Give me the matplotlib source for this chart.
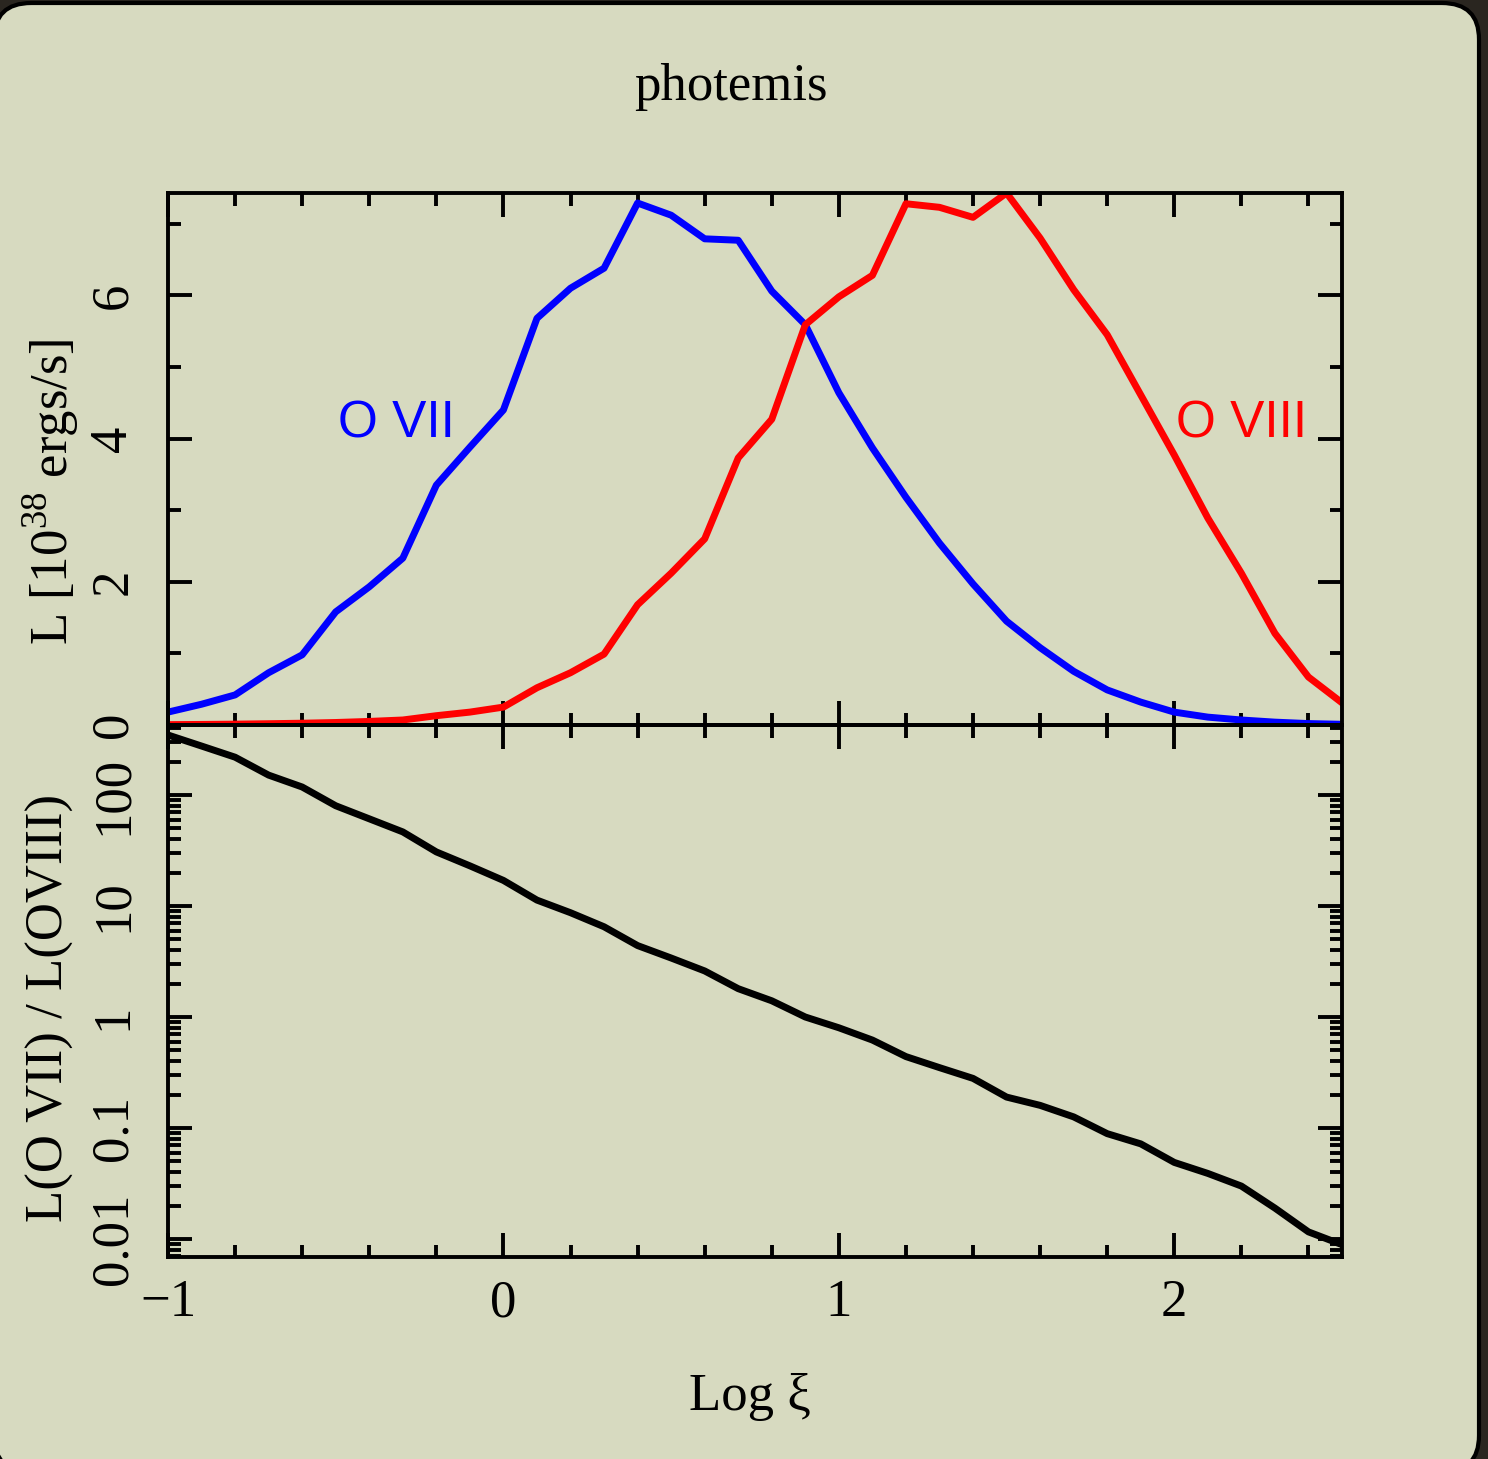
import numpy as np
import matplotlib
matplotlib.use('Agg')
import matplotlib.pyplot as plt
from matplotlib.patches import FancyBboxPatch
from matplotlib.ticker import MultipleLocator, LogLocator, FixedLocator, FixedFormatter, NullFormatter

# log xi grid, one point every 0.1
log_xi = np.round(np.arange(-1.0, 2.51, 0.1), 1)

# luminosity in 1e38 erg/s
o_vii = [0.18, 0.29, 0.42, 0.73, 0.98, 1.58, 1.93, 2.33, 3.35, 3.88,
         4.40, 5.68, 6.10, 6.38, 7.29, 7.12, 6.79, 6.77, 6.06, 5.59,
         4.64, 3.87, 3.18, 2.54, 1.97, 1.45, 1.08, 0.75, 0.49, 0.32,
         0.18, 0.11, 0.07, 0.04, 0.02, 0.01]
o_viii = [0.005, 0.008, 0.012, 0.018, 0.025, 0.035, 0.05, 0.07, 0.13, 0.18,
          0.25, 0.52, 0.73, 0.99, 1.68, 2.12, 2.60, 3.73, 4.27, 5.59,
          5.98, 6.28, 7.28, 7.23, 7.09, 7.43, 6.80, 6.08, 5.45, 4.61,
          3.77, 2.89, 2.12, 1.28, 0.67, 0.31]
ratio = [347, 276, 219, 151, 118, 80, 61, 46.5, 30.7, 23,
         17, 11.3, 8.7, 6.5, 4.4, 3.4, 2.6, 1.8, 1.4, 1.0,
         0.80, 0.62, 0.44, 0.35, 0.28, 0.19, 0.16, 0.126, 0.089, 0.072,
         0.049, 0.039, 0.030, 0.019, 0.0116, 0.0089]

ratio_ticks = [0.01, 0.1, 1, 10, 100]
ratio_labels = ['0.01', '0.1', '1', '10', '100']

plt.rcParams['font.family'] = ['Liberation Serif', 'DejaVu Serif']
plt.rcParams['mathtext.fontset'] = 'custom'
plt.rcParams['mathtext.rm'] = 'Liberation Serif'

W, H = 1488, 1459
bg = '#d7dac0'
fs = 38

fig = plt.figure(figsize=(W / 100, H / 100), dpi=100, facecolor='#2a2620')

# rounded panel behind everything (runs off the left and bottom edges)
panel = FancyBboxPatch((-6 / W, 1 - 1472 / H), 1485 / W, 1469 / H,
                       boxstyle='round,pad=0,rounding_size=0.025',
                       transform=fig.transFigure, facecolor=bg,
                       edgecolor='black', linewidth=3, zorder=-10)
fig.patches.append(panel)

left = 168 / W
width = (1342 - 168) / W
ax1 = fig.add_axes([left, 1 - 725 / H, width, (725 - 193) / H])
ax2 = fig.add_axes([left, 1 - 1257 / H, width, (1257 - 725) / H], sharex=ax1)

for ax in (ax1, ax2):
    ax.set_facecolor('none')
    for s in ax.spines.values():
        s.set_linewidth(2.8)
    ax.tick_params(which='both', direction='in', top=True, right=True,
                   width=2.8, labelsize=fs, pad=22)
    ax.tick_params(which='major', length=17)
    ax.tick_params(which='minor', length=9)
    ax.xaxis.set_major_locator(MultipleLocator(1))
    ax.xaxis.set_minor_locator(MultipleLocator(0.2))

ax1.plot(log_xi, o_vii, color='#0000ff', lw=5)
ax1.plot(log_xi, o_viii, color='#ff0000', lw=5)
ax1.set_xlim(-1, 2.5)
ax1.set_ylim(0, 7.43)
ax1.yaxis.set_major_locator(MultipleLocator(2))
ax1.yaxis.set_minor_locator(MultipleLocator(1))
ax1.tick_params(axis='x', labelbottom=False)
ax1.tick_params(axis='y', labelrotation=90)
for lab in ax1.get_yticklabels():
    lab.set_va('center')

ax1.text(-0.493, 4.01, 'O VII', color='#0000ff', family='Liberation Sans',
         fontsize=37, ha='left', va='baseline')
ax1.text(2.396, 4.01, 'O VIII', color='#ff0000', family='Liberation Sans',
         fontsize=37, ha='right', va='baseline')

ax2.plot(log_xi, ratio, color='black', lw=5)
ax2.set_yscale('log')
ax2.set_ylim(0.00689, 427)
ax2.yaxis.set_major_locator(FixedLocator(ratio_ticks))
ax2.yaxis.set_major_formatter(FixedFormatter(ratio_labels))
ax2.yaxis.set_minor_locator(LogLocator(base=10, subs=np.arange(2, 10), numticks=20))
ax2.yaxis.set_minor_formatter(NullFormatter())
ax2.tick_params(axis='x', pad=16)
ax2.tick_params(axis='y', labelrotation=90)
for lab in ax2.get_yticklabels():
    lab.set_va('center')

fig.text(0.4913, 1 - 100 / H, 'photemis', fontsize=fs, ha='center', va='baseline')
fig.text(750 / W, 1 - 1410 / H, 'Log ξ', fontsize=fs, ha='center', va='baseline')
fig.text(51 / W, 1 - 492 / H, 'L [10$^{38}$ ergs/s]', fontsize=fs,
         rotation=90, ha='center', va='center')
fig.text(50 / W, 1 - 1008 / H, 'L(O VII) / L(OVIII)', fontsize=fs,
         rotation=90, ha='center', va='center')

fig.savefig('out.png', dpi=100, facecolor=fig.get_facecolor())
